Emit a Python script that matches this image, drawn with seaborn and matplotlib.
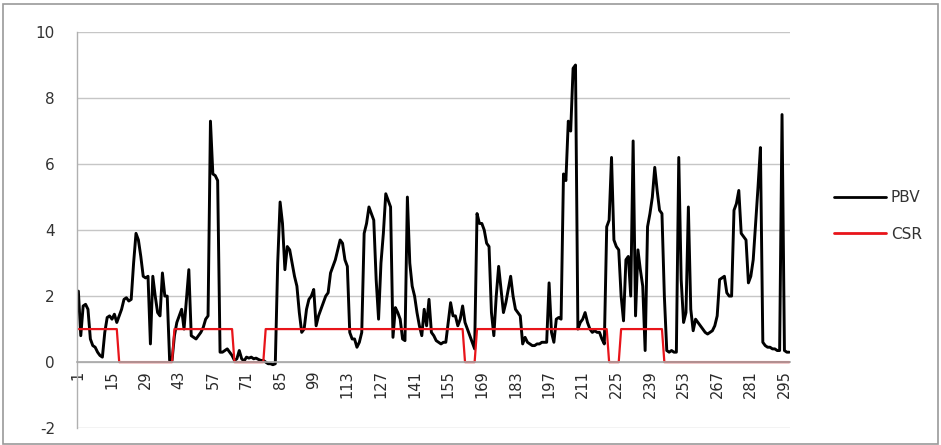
import numpy as np
import pandas as pd
import matplotlib
matplotlib.use("Agg")
import matplotlib.pyplot as plt
import seaborn as sns
from matplotlib.patches import Rectangle

# ---- data ----
pbv = [
    2.15, 0.8, 1.7, 1.75, 1.6, 0.7, 0.5, 0.45, 0.3, 0.2,
    0.15, 0.9, 1.35, 1.4, 1.3, 1.45, 1.2, 1.4, 1.6, 1.9,
    1.95, 1.85, 1.9, 3.0, 3.9, 3.7, 3.2, 2.6, 2.55, 2.6,
    0.55, 2.6, 2.0, 1.5, 1.4, 2.7, 2.0, 2.0, 0.05, 0.05,
    0.8, 1.2, 1.4, 1.6, 1.0, 1.9, 2.8, 0.8, 0.75, 0.7,
    0.8, 0.9, 1.05, 1.3, 1.4, 7.3, 5.7, 5.65, 5.5, 0.3,
    0.3, 0.35, 0.4, 0.3, 0.2, 0.05, 0.1, 0.35, 0.1, 0.03,
    0.15, 0.12, 0.15, 0.1, 0.12, 0.08, 0.05, 0.05, 0.0, -0.05,
    -0.05, -0.08, -0.05, 3.0, 4.85, 4.2, 2.8, 3.5, 3.4, 3.0,
    2.6, 2.3, 1.5, 0.9, 1.0, 1.6, 1.9, 2.0, 2.2, 1.1,
    1.4, 1.6, 1.8, 2.0, 2.1, 2.7, 2.9, 3.1, 3.4, 3.7,
    3.6, 3.1, 2.9, 0.9, 0.7, 0.7, 0.45, 0.6, 0.9, 3.9,
    4.2, 4.7, 4.5, 4.3, 2.5, 1.3, 3.0, 3.9, 5.1, 4.9,
    4.7, 0.75, 1.65, 1.5, 1.3, 0.7, 0.65, 5.0, 3.0, 2.3,
    2.0, 1.5, 1.1, 0.8, 1.6, 1.1, 1.9, 0.9, 0.8, 0.65,
    0.6, 0.55, 0.6, 0.6, 1.2, 1.8, 1.4, 1.4, 1.1, 1.3,
    1.7, 1.2, 1.0, 0.8, 0.6, 0.4, 4.5, 4.2, 4.2, 4.0,
    3.6, 3.5, 1.5, 0.8, 2.0, 2.9, 2.2, 1.5, 1.8, 2.2,
    2.6, 2.0, 1.6, 1.5, 1.4, 0.55, 0.75, 0.6, 0.55, 0.5,
    0.5, 0.55, 0.55, 0.6, 0.6, 0.6, 2.4, 0.9, 0.6, 1.3,
    1.35, 1.3, 5.7, 5.5, 7.3, 7.0, 8.9, 9.0, 1.0, 1.2,
    1.3, 1.5, 1.2, 1.0, 0.9, 0.95, 0.9, 0.9, 0.7, 0.55,
    4.1, 4.3, 6.2, 3.7, 3.5, 3.4, 2.0, 1.25, 3.1, 3.2,
    2.0, 6.7, 1.4, 3.4, 2.8, 2.3, 0.35, 4.1, 4.5, 5.0,
    5.9, 5.2, 4.6, 4.5, 2.0, 0.35, 0.3, 0.35, 0.3, 0.3,
    6.2, 2.5, 1.2, 1.5, 4.7, 1.6, 0.95, 1.3, 1.2, 1.1,
    1.0, 0.9, 0.85, 0.9, 0.95, 1.1, 1.4, 2.5, 2.55, 2.6,
    2.1, 2.0, 2.0, 4.6, 4.8, 5.2, 3.9, 3.8, 3.7, 2.4,
    2.6, 3.1, 4.2, 5.3, 6.5, 0.6, 0.5, 0.45, 0.45, 0.4,
    0.4, 0.35, 0.35, 7.5, 0.35, 0.3, 0.3,
]
# CSR step segments: (start index, end index, value)
csr_segments = [
    (1, 17, 1), (18, 40, 0), (41, 65, 1), (66, 78, 0), (79, 161, 1),
    (162, 166, 0), (167, 221, 1), (222, 226, 0), (227, 244, 1), (245, 297, 0),
]
csr = []
for s, e, v in csr_segments:
    csr += [v] * (e - s + 1)

index = list(range(1, len(pbv) + 1))
x_tick_labels = list(range(1, 298, 14))
y_ticks = [-2, 0, 2, 4, 6, 8, 10]
series_names = ["PBV", "CSR"]
series_colors = {"PBV": "black", "CSR": "#e8141a"}

df = pd.DataFrame({
    "idx": index * 2,
    "value": pbv + csr,
    "series": ["PBV"] * len(pbv) + ["CSR"] * len(csr),
})

# ---- plot ----
sns.set_style("white")
plt.rcParams["font.family"] = ["DejaVu Sans"]
plt.rcParams["axes.unicode_minus"] = False

fig = plt.figure(figsize=(9.41, 4.45), dpi=100)
ax = fig.add_axes([0.082, 0.038, 0.758, 0.890])

sns.lineplot(data=df, x="idx", y="value", hue="series", hue_order=series_names,
             palette=series_colors, ax=ax, legend=False, linewidth=1.9,
             estimator=None, sort=False)
for line, lw in zip(ax.lines, [2.1, 1.6]):
    line.set_linewidth(lw)

ax.set_xlim(0.5, len(pbv) + 0.5)
ax.set_ylim(-2, 10)
ax.set_yticks(y_ticks)
ax.set_yticklabels([str(v) for v in y_ticks])
ax.yaxis.grid(True, color="#c6c6c6", linewidth=1.0)
ax.set_axisbelow(True)

for s in ["top", "right"]:
    ax.spines[s].set_visible(False)
ax.spines["left"].set_color("#b0b0b0")
ax.spines["left"].set_linewidth(1.0)
ax.spines["bottom"].set_position(("data", 0))
ax.spines["bottom"].set_color("#a8a8a8")
ax.spines["bottom"].set_linewidth(1.2)

ax.set_xticks(x_tick_labels)
ax.set_xticklabels([str(v) for v in x_tick_labels], rotation=90)
ax.set_xticks(np.arange(0.5, len(pbv) + 1, 1), minor=True)
ax.tick_params(axis="x", which="major", length=0, pad=6, labelsize=10.5, labelcolor="#2a2a2a")
ax.tick_params(axis="x", which="minor", length=5, direction="inout", color="#b4b4b4", width=0.8)
ax.tick_params(axis="y", length=0, pad=16, labelsize=11, labelcolor="#333333")
ax.set_xlabel("")
ax.set_ylabel("")

handles = [plt.Line2D([], [], color=series_colors[n], linewidth=2.0) for n in series_names]
fig.legend(handles, series_names, loc="center left", bbox_to_anchor=(0.872, 0.515),
           frameon=False, handlelength=3.4, handletextpad=0.3, labelspacing=1.4,
           fontsize=11, labelcolor="#333333")

fig.patches.append(Rectangle((0.003, 0.002), 0.994, 0.99, transform=fig.transFigure,
                             fill=False, edgecolor="#9a9a9a", linewidth=1.2))

fig.savefig("out.png", dpi=100)
